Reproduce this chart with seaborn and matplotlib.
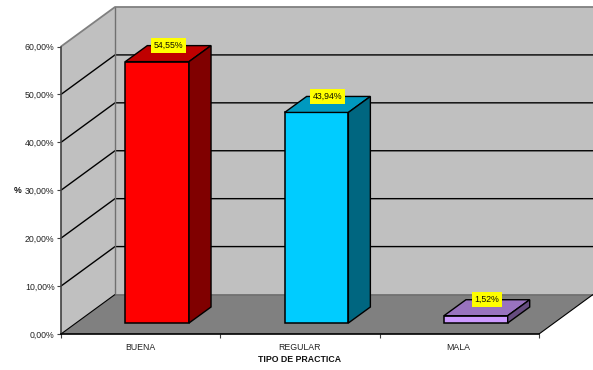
import matplotlib
matplotlib.use("Agg")
import matplotlib.pyplot as plt
import pandas as pd
import seaborn as sns
from matplotlib.patches import Polygon
from matplotlib.transforms import Affine2D, IdentityTransform

categories = ["BUENA", "REGULAR", "MALA"]
values = [54.55, 43.94, 1.52]
value_labels = ["54,55%", "43,94%", "1,52%"]
y_ticks = [0, 10, 20, 30, 40, 50, 60]
y_tick_labels = ["0,00%", "10,00%", "20,00%", "30,00%", "40,00%", "50,00%", "60,00%"]
front_colors = ["#FF0000", "#00CCFF", "#CC99FF"]
top_colors = ["#BF0000", "#0099BF", "#9973BF"]
side_colors = ["#800000", "#006680", "#664C80"]

W, H = 593, 370
WALL_DX, WALL_DY = 54, 39.5   # depth of the plot box, in pixels
BAR_DX, BAR_DY = 22, 16       # depth of each column, in pixels
BAR_SHIFT_X, BAR_SHIFT_Y = 16.5, 11  # columns stand in the middle of the floor
TEXT_SIZE = 6.3

sns.set_style("white")
plt.rcParams["font.family"] = ["Liberation Sans", "DejaVu Sans"]

fig = plt.figure(figsize=(W / 100, H / 100), dpi=100, facecolor="white")
ax = fig.add_axes([61 / W, (H - 334) / H, 478 / W, 287.5 / H])
ax.patch.set_visible(False)

df = pd.DataFrame({"tipo": categories, "pct": values})
sns.barplot(data=df, x="tipo", y="pct", hue="tipo", palette=front_colors,
            order=categories, hue_order=categories, width=0.4, legend=False,
            saturation=1, edgecolor="black", linewidth=1.1, ax=ax, zorder=5)
ax.set_xlim(-0.5, 2.5)
ax.set_ylim(0, 60)
fig.canvas.draw()
bars = list(ax.patches)

to_px = ax.transData.transform
px = IdentityTransform()


def poly(points, face, edge="none", lw=0.0, z=1):
    ax.add_patch(Polygon(points, closed=True, facecolor=face, edgecolor=edge,
                         linewidth=lw, transform=px, clip_on=False, zorder=z))


def line(points, color="black", lw=1.0, z=2):
    xs, ys = zip(*points)
    ax.plot(xs, ys, color=color, lw=lw, transform=px, clip_on=False, zorder=z,
            solid_capstyle="butt")


# Box walls and floor
x0, y0 = to_px((-0.5, 0))
x1, _ = to_px((2.5, 0))
_, ytop = to_px((-0.5, 60))
poly([(x0 + WALL_DX, ytop + WALL_DY), (W, ytop + WALL_DY), (W, y0 + WALL_DY), (x0 + WALL_DX, y0 + WALL_DY)], "#C0C0C0")
poly([(x0, ytop), (x0 + WALL_DX, ytop + WALL_DY), (x0 + WALL_DX, y0 + WALL_DY), (x0, y0)], "#C0C0C0")
poly([(x0, y0), (x0 + WALL_DX, y0 + WALL_DY), (W, y0 + WALL_DY), (x1, y0)], "#808080")

# Gridlines run along the side wall, then across the back wall
for t in y_ticks[1:]:
    _, yt = to_px((-0.5, t))
    color = "#808080" if t == 60 else "black"
    line([(x0, yt), (x0 + WALL_DX, yt + WALL_DY), (W, yt + WALL_DY)], color=color, lw=1.0 if t < 60 else 1.3)
line([(x0 + WALL_DX, ytop + WALL_DY), (x0 + WALL_DX, y0 + WALL_DY)], color="#707070", lw=1.0)
line([(x0 + WALL_DX, y0 + WALL_DY), (W, y0 + WALL_DY)], color="#707070", lw=1.2)
line([(x0, y0), (x0 + WALL_DX, y0 + WALL_DY)], color="black", lw=0.8)
line([(x1, y0), (W, y0 + WALL_DY)], color="black", lw=0.8)

# Columns: shift the front faces onto the floor, then add top and side faces
shift = Affine2D().translate(BAR_SHIFT_X, BAR_SHIFT_Y)
for i, bar in enumerate(bars):
    (xa, ya), (xb, yb) = to_px([(bar.get_x(), 0), (bar.get_x() + bar.get_width(), bar.get_height())])
    bar.set_transform(ax.transData + shift)
    bar.set_clip_on(False)
    xa += BAR_SHIFT_X
    xb += BAR_SHIFT_X
    ya += BAR_SHIFT_Y
    yb += BAR_SHIFT_Y
    poly([(xa, yb), (xb, yb), (xb + BAR_DX, yb + BAR_DY), (xa + BAR_DX, yb + BAR_DY)],
         top_colors[i], "black", 1.0, 6)
    poly([(xb, ya), (xb + BAR_DX, ya + BAR_DY), (xb + BAR_DX, yb + BAR_DY), (xb, yb)],
         side_colors[i], "black", 1.0, 6)
    ax.text((xa + xb) / 2 + BAR_DX / 2, yb + BAR_DY, value_labels[i], transform=px,
            ha="center", va="center", fontsize=TEXT_SIZE, color="#111100", zorder=8,
            bbox=dict(facecolor="#FFFF00", edgecolor="none", pad=2.1))

# Axes, ticks and titles
for side in ("top", "right"):
    ax.spines[side].set_visible(False)
ax.spines["left"].set_color("#404040")
ax.spines["left"].set_linewidth(1.2)
ax.spines["bottom"].set_color("black")
ax.spines["bottom"].set_linewidth(1.2)
for s in ax.spines.values():
    s.set_zorder(4)
ax.set_yticks(y_ticks, y_tick_labels)
ax.set_xticks([-0.5, 0.5, 1.5, 2.5], ["", "", "", ""])
ax.tick_params(axis="both", which="both", left=True, bottom=True, length=3.2, width=0.8,
               color="#404040", labelsize=TEXT_SIZE, labelcolor="#222222", pad=1.5)
for x, name in zip(range(3), categories):
    ax.annotate(name, (x, 0), xytext=(-0.5, -9.5), textcoords="offset points", ha="center", va="center",
                fontsize=TEXT_SIZE, color="#222222", annotation_clip=False)
ax.set_xlabel("")
ax.set_ylabel("")
fig.text(300 / W, 1 - 359 / H, "TIPO DE PRACTICA", ha="center", va="center",
         fontsize=TEXT_SIZE, fontweight="bold", color="#111111")
fig.text(17.5 / W, 1 - 190.5 / H, "%", ha="center", va="center",
         fontsize=TEXT_SIZE, fontweight="bold", color="#111111")

fig.savefig("out.png", dpi=100)
